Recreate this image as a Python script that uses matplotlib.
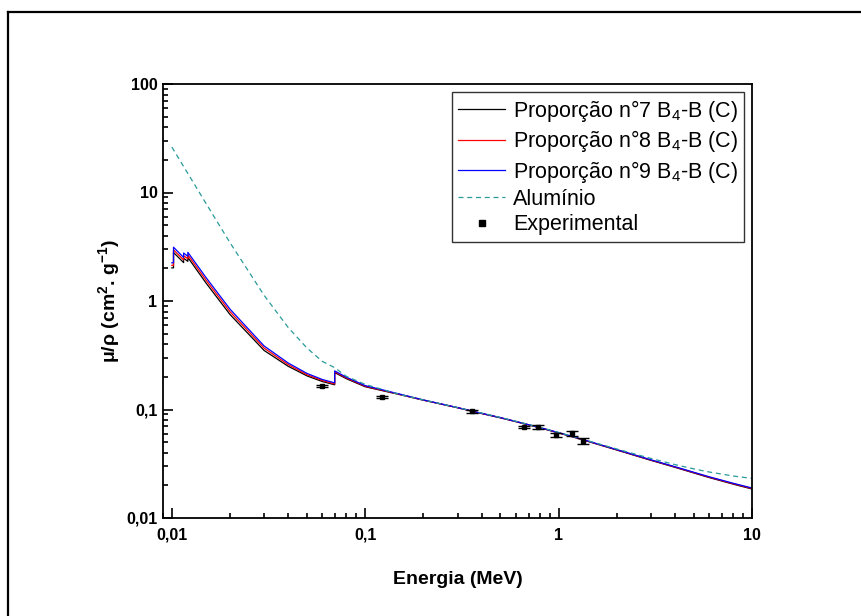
import numpy as np
import matplotlib
matplotlib.use("Agg")
import matplotlib.pyplot as plt
from matplotlib.lines import Line2D
from matplotlib.ticker import FixedLocator, FixedFormatter, LogLocator, NullFormatter

plt.rcParams['font.family'] = ['Liberation Sans', 'DejaVu Sans']
plt.rcParams['mathtext.fontset'] = 'custom'
plt.rcParams['mathtext.rm'] = 'Liberation Sans'
plt.rcParams['mathtext.default'] = 'regular'

# ---- data ----
energy = [0.01, 0.0102, 0.0102, 0.0115, 0.0115, 0.0121, 0.0121, 0.015, 0.02, 0.03,
          0.04, 0.05, 0.06, 0.0695, 0.0695, 0.08, 0.1, 0.15, 0.2, 0.3, 0.4, 0.5,
          0.6, 0.8, 1.0, 1.25, 1.5, 2.0, 3.0, 4.0, 5.0, 6.0, 8.0, 10.0]

prop7 = [2.02, 2.02, 2.80, 2.26, 2.48, 2.32, 2.52, 1.47, 0.75, 0.350,
         0.250, 0.204, 0.181, 0.169, 0.219, 0.192, 0.162, 0.1375, 0.1218, 0.1038,
         0.0918, 0.0838, 0.0773, 0.0678, 0.0608, 0.0543, 0.0493, 0.0423, 0.0340,
         0.0293, 0.0260, 0.0236, 0.0205, 0.0185]
prop8 = [2.13, 2.13, 2.96, 2.39, 2.62, 2.45, 2.66, 1.56, 0.795, 0.368,
         0.259, 0.209, 0.185, 0.172, 0.223, 0.195, 0.164, 0.138, 0.122, 0.104,
         0.092, 0.084, 0.0775, 0.068, 0.061, 0.0545, 0.0495, 0.0425, 0.0342,
         0.0295, 0.0262, 0.0238, 0.0207, 0.0187]
prop9 = [2.25, 2.25, 3.13, 2.52, 2.77, 2.58, 2.81, 1.65, 0.84, 0.385,
         0.268, 0.215, 0.189, 0.176, 0.227, 0.198, 0.166, 0.139, 0.1225, 0.1042,
         0.0922, 0.0842, 0.0777, 0.0682, 0.0612, 0.0547, 0.0497, 0.0427, 0.0344,
         0.0297, 0.0264, 0.0240, 0.0209, 0.0189]

al_energy = [0.01, 0.015, 0.02, 0.03, 0.04, 0.05, 0.06, 0.0695]
al_mu = [26.23, 7.955, 3.441, 1.128, 0.5685, 0.3681, 0.2778, 0.243]
al_energy2 = [0.08, 0.1, 0.15, 0.2, 0.3, 0.4, 0.5, 0.6, 0.8, 1.0, 1.25, 1.5,
              2.0, 3.0, 4.0, 5.0, 6.0, 8.0, 10.0]
al_mu2 = [0.2018, 0.1704, 0.1378, 0.1223, 0.1042, 0.09276, 0.08445, 0.07802,
          0.06841, 0.06146, 0.05496, 0.05006, 0.04324, 0.03541, 0.03106,
          0.02836, 0.02655, 0.02437, 0.02318]

exp_energy = [0.0595, 0.122, 0.356, 0.662, 0.779, 0.964, 1.173, 1.332]
exp_mu = [0.165, 0.130, 0.0968, 0.069, 0.069, 0.0582, 0.0605, 0.0513]
exp_err = [0.003, 0.003, 0.003, 0.002, 0.003, 0.002, 0.003, 0.003]

xticks = [0.01, 0.1, 1, 10]
xticklabels = ['0,01', '0,1', '1', '10']
yticks = [0.01, 0.1, 1, 10, 100]
yticklabels = ['0,01', '0,1', '1', '10', '100']

# ---- figure ----
fig = plt.figure(figsize=(8.62, 6.16), dpi=100)
ax = fig.add_axes([163/862, 1-518/616, (752-163)/862, (518-84)/616])

ax.plot(energy, prop7, color='black', lw=0.9, label='Proporção n°7 B$_4$-B (C)')
ax.plot(energy, prop8, color='red', lw=0.9, label='Proporção n°8 B$_4$-B (C)')
ax.plot(energy, prop9, color='blue', lw=0.9, label='Proporção n°9 B$_4$-B (C)')
ax.plot(al_energy + al_energy2, al_mu + al_mu2, color='#2a9a9a', lw=0.9,
        ls=(0, (4, 3)), label='Alumínio')
ax.errorbar(exp_energy, exp_mu, yerr=exp_err, fmt='s', color='black', ms=2.5,
            elinewidth=1, capsize=4, capthick=1)

ax.set_xscale('log')
ax.set_yscale('log')
ax.set_xlim(0.009, 10)
ax.set_ylim(0.01, 100)

ax.xaxis.set_major_locator(FixedLocator(xticks))
ax.xaxis.set_major_formatter(FixedFormatter(xticklabels))
ax.yaxis.set_major_locator(FixedLocator(yticks))
ax.yaxis.set_major_formatter(FixedFormatter(yticklabels))
ax.xaxis.set_minor_locator(LogLocator(base=10, subs=np.arange(2, 10)))
ax.yaxis.set_minor_locator(LogLocator(base=10, subs=np.arange(2, 10)))
ax.xaxis.set_minor_formatter(NullFormatter())
ax.yaxis.set_minor_formatter(NullFormatter())

ax.tick_params(which='both', direction='in', top=False, right=False, width=1.2)
ax.tick_params(which='major', length=7, labelsize=11.5)
ax.tick_params(axis='x', which='major', pad=7)
ax.tick_params(axis='y', which='major', pad=4)
ax.tick_params(which='minor', length=3.5)
for lab in ax.get_xticklabels() + ax.get_yticklabels():
    lab.set_fontweight('bold')
for sp in ax.spines.values():
    sp.set_linewidth(1.3)

ax.set_xlabel('Energia (MeV)', fontsize=14, fontweight='bold', labelpad=20)
ax.set_ylabel('μ/ρ (cm$^2$. g$^{-1}$)', fontsize=14, fontweight='bold', labelpad=3)

handles, labels = ax.get_legend_handles_labels()
handles.append(Line2D([], [], marker='s', ls='none', color='black', ms=5))
labels.append('Experimental')
leg = ax.legend(handles, labels, loc='upper right', fontsize=15.5, frameon=True,
                fancybox=False, edgecolor='black', handlelength=2.2,
                borderaxespad=0.35, labelspacing=0.2, handletextpad=0.35,
                borderpad=0.3)
leg.get_frame().set_linewidth(1.0)

# figure border (top and left)
fig.add_artist(Line2D([8/862, 8/862], [0, 1-12/616], transform=fig.transFigure,
                      color='black', lw=1.6))
fig.add_artist(Line2D([8/862, 1], [1-12/616, 1-12/616], transform=fig.transFigure,
                      color='black', lw=1.6))

fig.savefig('out.png', dpi=100)
